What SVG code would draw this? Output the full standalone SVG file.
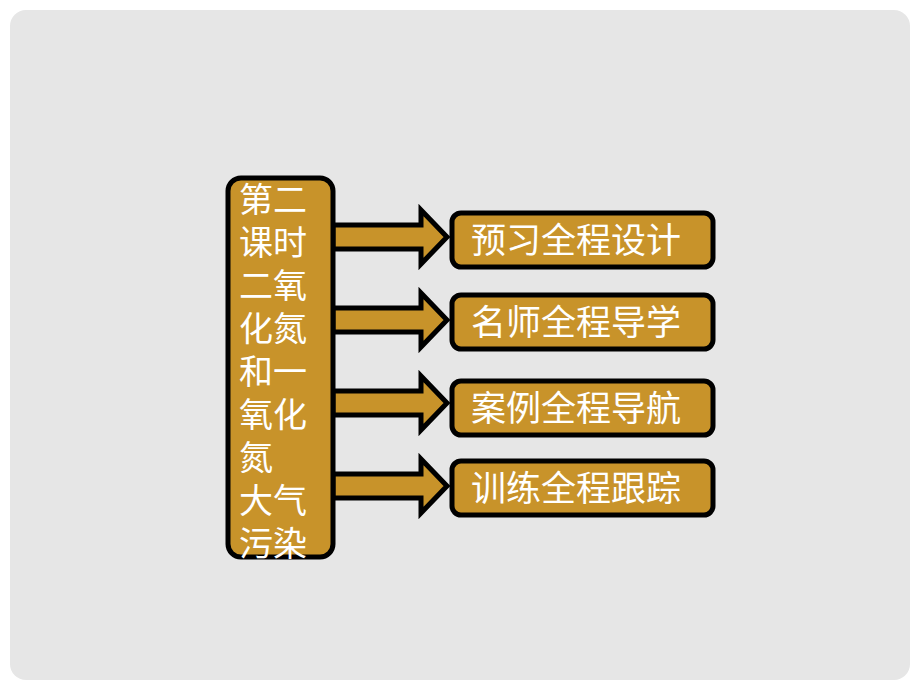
<svg xmlns="http://www.w3.org/2000/svg" width="920" height="690" viewBox="0 0 920 690">
<style>
.box{fill:#c8932a;stroke:#000;stroke-width:5}
.arrow{fill:#c8932a;stroke:#000;stroke-width:5;stroke-linejoin:miter}
.t{fill:#fff;font-family:"Noto Sans CJK SC","Noto Sans CJK TC",sans-serif;font-size:34px}
.r{font-size:35px}
</style>
<rect x="0" y="0" width="920" height="690" fill="#ffffff"/>
<rect x="10" y="10" width="900" height="670" rx="16" fill="#e6e6e6"/>
<g id="connectors">
<polygon class="arrow" points="333,225 421,225 421,210 447,237 421,264 421,249 333,249"/>
<polygon class="arrow" points="333,308 421,308 421,293 447,320 421,347 421,332 333,332"/>
<polygon class="arrow" points="333,391 421,391 421,376 447,403 421,430 421,415 333,415"/>
<polygon class="arrow" points="333,474 421,474 421,459 447,486 421,513 421,498 333,498"/>
</g>
<g id="main">
<rect class="box" x="228" y="178" width="105" height="379" rx="13"/>
<text class="t" x="239" y="212">第二</text>
<text class="t" x="239" y="255">课时</text>
<text class="t" x="239" y="298">二氧</text>
<text class="t" x="239" y="341">化氮</text>
<text class="t" x="239" y="384">和一</text>
<text class="t" x="239" y="427">氧化</text>
<text class="t" x="239" y="470">氮</text>
<text class="t" x="239" y="513">大气</text>
<text class="t" x="239" y="556">污染</text>
</g>
<g id="n1">
<rect class="box" x="452" y="213" width="261" height="54" rx="9"/>
<text class="t r" x="471" y="253">预习全程设计</text>
</g>
<g id="n2">
<rect class="box" x="452" y="295" width="261" height="54" rx="9"/>
<text class="t r" x="471" y="335">名师全程导学</text>
</g>
<g id="n3">
<rect class="box" x="452" y="381" width="261" height="54" rx="9"/>
<text class="t r" x="471" y="421">案例全程导航</text>
</g>
<g id="n4">
<rect class="box" x="452" y="461" width="261" height="54" rx="9"/>
<text class="t r" x="471" y="501">训练全程跟踪</text>
</g>
</svg>
